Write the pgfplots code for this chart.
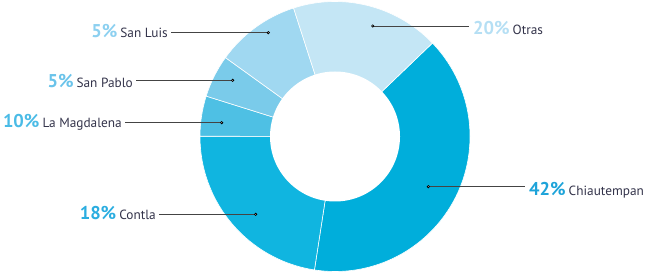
\documentclass[border=0pt]{standalone}
\usepackage{pgfplots}
\pgfplotsset{compat=1.18}
\usepackage{pgfplotstable}
\usepackage{fontspec}
\setmainfont{PT Sans}
\definecolor{cA}{HTML}{00AEDB}
\definecolor{cB}{HTML}{10B5E0}
\definecolor{cC}{HTML}{4EC0E4}
\definecolor{cD}{HTML}{7ACBEA}
\definecolor{cE}{HTML}{A0D8F1}
\definecolor{cF}{HTML}{C4E6F5}
\definecolor{pA}{HTML}{1DA3D9}
\definecolor{pB}{HTML}{2AADE0}
\definecolor{pC}{HTML}{4ABBE6}
\definecolor{pD}{HTML}{6AC3EA}
\definecolor{pE}{HTML}{8CD0F0}
\definecolor{pF}{HTML}{B5DFF4}
\definecolor{txt}{HTML}{33334A}
\definecolor{lead}{HTML}{444444}
% slices in drawing order (clockwise from 43.8 deg), value in percent of the ring
\pgfplotstableread[col sep=comma]{
name,pct,val,col
Chiautempan,42,39.6,cA
Contla,18,22.6,cB
La Magdalena,10,4.8,cC
San Pablo,5,5.1,cD
San Luis,5,10.1,cE
Otras,20,17.8,cF
}\slices
\newcommand{\lab}[3]{{\fontsize{18.5}{18.5}\selectfont\bfseries\color{#1}#2}\hspace{3pt}{\fontsize{13.3}{13.3}\selectfont\color{txt}#3}}
\begin{document}
\begin{tikzpicture}
\begin{axis}[
  width=650pt, height=273pt, scale only axis,
  xmin=0, xmax=650, ymin=0, ymax=273,
  hide axis, clip=false,
]
\xdef\astart{43.8}
\pgfplotsforeachungrouped \i in {0,...,5}{%
  \pgfplotstablegetelem{\i}{val}\of\slices
  \pgfmathsetmacro\v{\pgfplotsretval}%
  \pgfplotstablegetelem{\i}{col}\of\slices
  \edef\c{\pgfplotsretval}%
  \pgfmathsetmacro\aend{\astart-3.6*\v}%
  \pgfmathsetmacro\xa{335+135*cos(\astart)}%
  \pgfmathsetmacro\ya{136.5+135*sin(\astart)}%
  \edef\temp{\noexpand\fill[\c, draw=white, line width=0.6pt] (axis cs:335,136.5) -- (axis cs:\xa,\ya) arc[start angle=\astart, end angle=\aend, radius=135pt] -- cycle;}%
  \temp
  \xdef\astart{\aend}%
}
\fill[white] (axis cs:335,136.5) circle[radius=65pt];
% leader lines
\addplot[lead, line width=0.8pt, mark=*, mark options={fill=white, draw=black, line width=0.7pt, scale=0.6}, mark indices={1}] coordinates {(268.3,240.3) (170.7,240.3)};
\addplot[lead, line width=0.8pt, mark=*, mark options={fill=white, draw=black, line width=0.7pt, scale=0.6}, mark indices={1}] coordinates {(232.7,192.7) (136,192.7)};
\addplot[lead, line width=0.8pt, mark=*, mark options={fill=white, draw=black, line width=0.7pt, scale=0.6}, mark indices={1}] coordinates {(221.7,150.3) (125,150.3)};
\addplot[lead, line width=0.8pt, mark=*, mark options={fill=white, draw=black, line width=0.7pt, scale=0.6}, mark indices={1}] coordinates {(255.7,58.7) (158.7,58.7)};
\addplot[lead, line width=0.8pt, mark=*, mark options={fill=white, draw=black, line width=0.7pt, scale=0.6}, mark indices={1}] coordinates {(372.7,247) (469.3,247)};
\addplot[lead, line width=0.8pt, mark=*, mark options={fill=white, draw=black, line width=0.7pt, scale=0.6}, mark indices={1}] coordinates {(428.3,86.3) (525,86.3)};
% labels
\node[anchor=base east, inner sep=0] at (axis cs:168,235.7) {\lab{pE}{5\%}{San Luis}};
\node[anchor=base east, inner sep=0] at (axis cs:133,185.7) {\lab{pD}{5\%}{San Pablo}};
\node[anchor=base east, inner sep=0] at (axis cs:122,145.7) {\lab{pC}{10\%}{La Magdalena}};
\node[anchor=base east, inner sep=0] at (axis cs:156,53.7) {\lab{pB}{18\%}{Contla}};
\node[anchor=base west, inner sep=0] at (axis cs:473,238) {\lab{pF}{20\%}{Otras}};
\node[anchor=base west, inner sep=0] at (axis cs:529,77) {\lab{pA}{42\%}{Chiautempan}};
\end{axis}
\pgfresetboundingbox
\path (current axis.south west) rectangle (current axis.north east);
\end{tikzpicture}
\end{document}
